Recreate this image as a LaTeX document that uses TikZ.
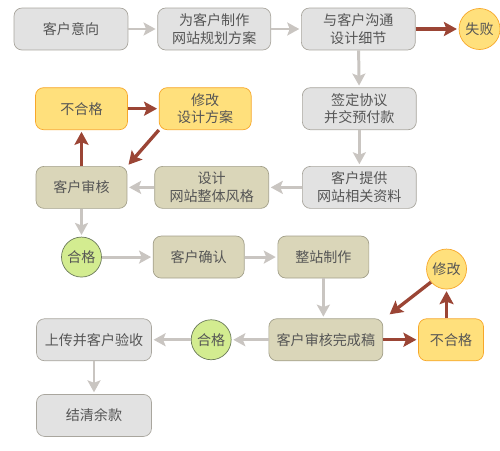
\documentclass[tikz,border=0pt]{standalone}
\usepackage{fontspec}
\newfontfamily\cjk{Noto Sans CJK SC}
\definecolor{BoxGray}{HTML}{E2E2E2}
\definecolor{BoxGrayLine}{HTML}{A9A69E}
\definecolor{BoxKhaki}{HTML}{DAD6B9}
\definecolor{BoxKhakiLine}{HTML}{A3A08A}
\definecolor{BoxYellow}{HTML}{FFE07C}
\definecolor{BoxYellowLine}{HTML}{F7A72A}
\definecolor{BoxGreen}{HTML}{D3EC90}
\definecolor{BoxGreenLine}{HTML}{6B7A5A}
\definecolor{ArrowGray}{HTML}{C9C5C1}
\definecolor{ArrowRed}{HTML}{9B4535}
\definecolor{TextGray}{HTML}{555555}
\usetikzlibrary{arrows.meta, positioning}
\tikzset{
    % Text in every node
    every node/.style={font=\cjk\fontsize{8pt}{10.2pt}\selectfont, text=TextGray},
    % Plain step box
    graybox/.style={
        rectangle,
        rounded corners=0.16cm,
        draw=BoxGrayLine,
        fill=BoxGray,
        minimum width=2.28cm,
        minimum height=0.84cm,
        inner ysep=1.5pt,
        align=center
    },
    % Design / production box
    khakibox/.style={
        rectangle,
        rounded corners=0.16cm,
        draw=BoxKhakiLine,
        fill=BoxKhaki,
        minimum width=2.28cm,
        minimum height=0.84cm,
        inner ysep=1.5pt,
        align=center
    },
    % Rejected / revise box
    yellowbox/.style={
        rectangle,
        rounded corners=0.16cm,
        draw=BoxYellowLine,
        fill=BoxYellow,
        minimum width=1.84cm,
        minimum height=0.84cm,
        inner ysep=1.5pt,
        align=center
    },
    % Small yellow circle
    yellowdot/.style={
        circle,
        draw=BoxYellowLine,
        fill=BoxYellow,
        minimum size=0.82cm,
        inner sep=0pt
    },
    % Passed circle
    passdot/.style={
        circle,
        draw=BoxGreenLine,
        fill=BoxGreen,
        minimum size=0.8cm,
        inner sep=0pt
    },
    % Normal flow arrow
    arrow/.style={
        -{Stealth[length=0.24cm, width=0.26cm, inset=0.05cm]},
        line width=1.7pt,
        color=ArrowGray,
        shorten >=1pt
    },
    % Failure flow arrow
    redarrow/.style={
        -{Stealth[length=0.26cm, width=0.28cm, inset=0.05cm]},
        line width=1.9pt,
        color=ArrowRed,
        shorten >=1pt
    }
}
\begin{document}
\begin{tikzpicture}[x=0.02cm, y=-0.02cm]
    \useasboundingbox (0,0) rectangle (500,450);

    % Row 1
    \node (intent) [graybox] at (71,29) {客户意向};
    \node (plan) [graybox, right=0.58cm of intent, minimum width=2.26cm] {为客户制作\\网站规划方案};
    \node (talk) [graybox, right=0.6cm of plan] {与客户沟通\\设计细节};
    \node (fail) [yellowdot, right=0.86cm of talk] {失败};

    \draw [arrow] (intent) -- (plan);
    \draw [arrow] (plan) -- (talk);
    \draw [redarrow] (talk) -- (fail);

    % Right column going down
    \node (sign) [graybox, below=0.74cm of talk, xshift=0.02cm] {签定协议\\并交预付款};
    \node (data) [graybox, below=0.72cm of sign] {客户提供\\网站相关资料};
    \node (style) [khakibox, left=0.66cm of data] {设计\\网站整体风格};
    \node (check1) [khakibox, left=0.54cm of style, minimum width=1.82cm] {客户审核};

    \draw [arrow] (talk) -- (sign);
    \draw [arrow] (sign) -- (data);
    \draw [arrow] (data) -- (style);
    \draw [arrow] (style) -- (check1);

    % First review loop
    \node (bad1) [yellowbox, above=0.72cm of check1] {不合格};
    \node (fix1) [yellowbox, right=0.62cm of bad1] {修改\\设计方案};

    \draw [redarrow] (check1) -- (bad1);
    \draw [redarrow] (bad1) -- (fix1);
    \draw [redarrow] (fix1.south west) -- (check1.north east);

    % Row 4
    \node (ok1) [passdot, below=0.56cm of check1] {合格};
    \node (confirm) [khakibox, right=1.02cm of ok1, minimum width=1.82cm] {客户确认};
    \node (build) [khakibox, right=0.66cm of confirm, minimum width=1.82cm] {整站制作};

    \draw [arrow] (check1) -- (ok1);
    \draw [arrow] (ok1) -- (confirm);
    \draw [arrow] (confirm) -- (build);

    % Final review
    \node (check2) [khakibox, below=0.8cm of build, xshift=0.05cm] {客户审核完成稿};
    \node (bad2) [yellowbox, right=0.7cm of check2, minimum width=1.3cm] {不合格};
    \node (fix2) [yellowdot, above=0.58cm of bad2, xshift=-0.09cm, minimum size=0.8cm] {修改};

    \draw [arrow] (build) -- (build |- check2.north);
    \draw [redarrow] (check2) -- (bad2);
    \draw [redarrow] (fix2.south |- bad2.north) -- (fix2);
    \draw [redarrow] (fix2.220) -- ([xshift=0.1cm, yshift=0.06cm]check2.north east);

    % Bottom left
    \node (ok2) [passdot, left=0.74cm of check2] {合格};
    \node (accept) [graybox, left=0.78cm of ok2, minimum width=2.3cm] {上传并客户验收};
    \node (pay) [graybox, below=0.66cm of accept, minimum width=2.3cm] {结清余款};

    \draw [arrow] (check2) -- (ok2);
    \draw [arrow] (ok2) -- (accept);
    \draw [arrow] (accept) -- (pay);
\end{tikzpicture}
\end{document}
